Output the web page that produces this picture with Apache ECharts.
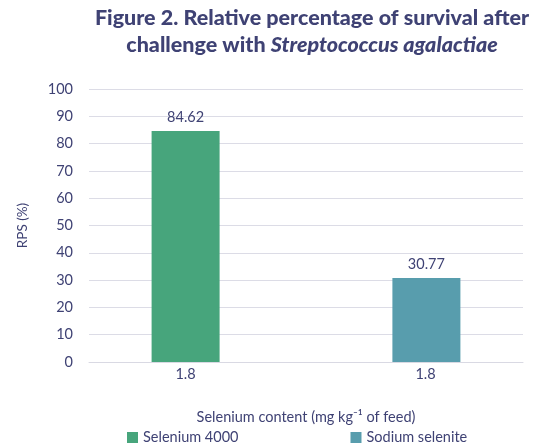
<!DOCTYPE html>
<html>
<head>
<meta charset="utf-8">
<script src="https://cdn.jsdelivr.net/npm/echarts@6/dist/echarts.min.js"></script>
<style>
  html, body { margin: 0; padding: 0; background: #fff; }
  #chart { width: 539px; height: 448px; }
</style>
</head>
<body>
<div id="chart"></div>
<script>
// data
var categories = ['1.8', '1.8']
var seriesNames = ['Selenium 4000', 'Sodium selenite']
var selenium4000 = [84.62, null]
var sodiumSelenite = [null, 30.77]
var yTicks = { min: 0, max: 100, interval: 10 }

var textColor = '#3f4274'
var fontFamily = 'Lato, "Open Sans", sans-serif'
var fs = 14.5

var chart = echarts.init(document.getElementById('chart'))

var option = {
    animation: false,
    textStyle: { fontFamily: fontFamily, color: textColor },
    color: ['#47a57c', '#589dad'],
    title: {
        left: 307,
        textAlign: 'center',
        top: 0,
        text: '{b|Figure 2. Relative percentage of survival after}\n{b|challenge with }{i|Streptococcus agalactiae}',
        textStyle: {
            rich: {
                b: { fontSize: 21.5, fontWeight: 900, color: textColor, fontFamily: fontFamily, lineHeight: 27 },
                i: { fontSize: 21.5, fontWeight: 900, fontStyle: 'italic', color: textColor, fontFamily: fontFamily, lineHeight: 27 }
            }
        }
    },
    legend: {
        left: 122,
        top: 425,
        icon: 'rect',
        itemWidth: 11,
        itemHeight: 11,
        itemGap: 112,
        textStyle: { fontSize: fs, color: textColor, fontFamily: fontFamily },
        data: seriesNames
    },
    grid: { left: 89, right: 16, top: 89, bottom: 86 },
    xAxis: {
        type: 'category',
        data: categories,
        name: 'Selenium content (mg kg\u207B\u00B9 of feed)',
        nameLocation: 'middle',
        nameGap: 48,
        nameTextStyle: { fontSize: fs, color: textColor },
        axisLine: { lineStyle: { color: '#d9d9e3' } },
        axisTick: { show: false },
        axisLabel: {
            margin: 5,
            fontSize: fs,
            color: textColor,
            formatter: function (val, idx) {
                return idx === 0 ? '{l|' + val + '}' : '{r|' + val + '}'
            },
            rich: {
                l: { fontSize: fs, color: textColor, padding: [0, 24, 0, 0] },
                r: { fontSize: fs, color: textColor, padding: [0, 0, 0, 22] }
            }
        }
    },
    yAxis: {
        type: 'value',
        min: yTicks.min,
        max: yTicks.max,
        interval: yTicks.interval,
        name: 'RPS (%)',
        nameLocation: 'middle',
        nameGap: 59,
        nameRotate: 90,
        nameTextStyle: { fontSize: 13.5, color: textColor },
        axisLine: { show: false },
        axisTick: { show: false },
        axisLabel: { margin: 16, fontSize: fs, color: textColor },
        splitLine: { lineStyle: { color: '#dcdce6', width: 1 } }
    },
    series: [
        {
            name: seriesNames[0],
            type: 'bar',
            data: selenium4000,
            barWidth: 68,
            barGap: '-65%',
            label: { show: true, position: 'top', distance: 6, fontSize: fs, color: textColor },
            itemStyle: { color: '#47a57c' }
        },
        {
            name: seriesNames[1],
            type: 'bar',
            data: sodiumSelenite,
            barWidth: 68,
            label: { show: true, position: 'top', distance: 6, fontSize: fs, color: textColor },
            itemStyle: { color: '#589dad' }
        }
    ]
}

chart.setOption(option)
</script>
</body>
</html>
